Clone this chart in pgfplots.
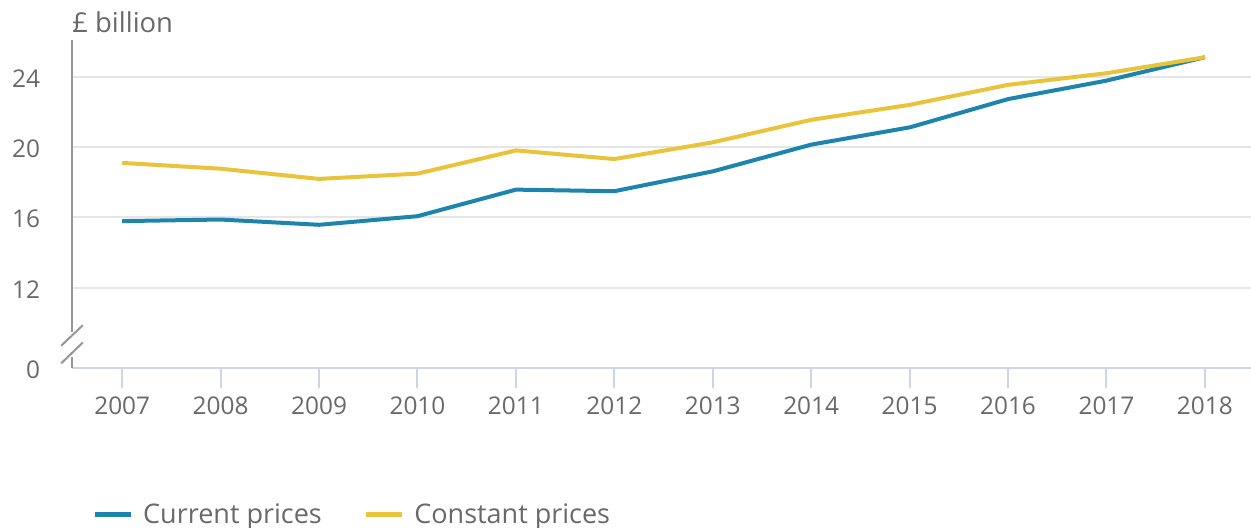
\documentclass[border=0pt]{standalone}
\usepackage{pgfplots}
\pgfplotsset{compat=1.18}
\usepackage{fontspec}
\setmainfont{Open Sans}
\definecolor{cur}{RGB}{29,133,173}
\definecolor{con}{RGB}{233,196,58}
\definecolor{txt}{RGB}{105,105,105}
\definecolor{gridc}{RGB}{230,230,230}
\definecolor{xaxc}{RGB}{204,214,235}
\definecolor{yaxc}{RGB}{150,150,150}
\begin{document}
\begin{tikzpicture}
\useasboundingbox (0pt,0pt) rectangle (625.5pt,264pt);
\begin{axis}[
  at={(36pt,79.85pt)}, anchor=south west,
  scale only axis, width=591.1pt, height=164.15pt,
  xmin=2006.49, xmax=2018.5, ymin=7.41, ymax=26.08,
  axis x line*=bottom, axis y line*=left,
  x axis line style={draw=xaxc, line width=1pt},
  y axis line style={draw=none},
  xtick={2007,...,2018},
  ytick={7.41,12,16,20,24}, yticklabels={0,12,16,20,24},
  /pgf/number format/assume math mode=true,
  /pgf/number format/1000 sep={},
  ymajorgrids=true,
  grid style={draw=gridc, line width=1pt},
  tick align=outside, major tick length=10pt,
  xtick style={draw=xaxc, line width=1pt},
  ytick style={draw=none},
  tick label style={font=\fontsize{12.2}{14}\selectfont, text=txt},
  yticklabel style={xshift=-2.5pt, yshift=-0.8pt},
  xticklabel style={yshift=-0.5pt},
  clip=false,
  legend style={draw=none, fill=none, inner sep=0pt, outer sep=0pt,
    anchor=west, at={(axis description cs:0.0175,-0.446)},
    font=\fontsize{13.5}{15}\selectfont, text=txt,
    /tikz/every even column/.append style={column sep=19pt}},
  legend columns=2,
  legend image code/.code={\draw[#1, line width=2.5pt] (0pt,0pt) -- (18pt,0pt); \path (21pt,0pt);},
]
\addplot[cur, line width=2pt] coordinates {
(2007,15.78) (2008,15.87) (2009,15.57) (2010,16.06) (2011,17.57) (2012,17.48)
(2013,18.61) (2014,20.13) (2015,21.11) (2016,22.72) (2017,23.77) (2018,25.10)};
\addlegendentry{Current prices}
\addplot[con, line width=2pt] coordinates {
(2007,19.09) (2008,18.76) (2009,18.18) (2010,18.48) (2011,19.80) (2012,19.31)
(2013,20.26) (2014,21.54) (2015,22.39) (2016,23.53) (2017,24.19) (2018,25.10)};
\addlegendentry{Constant prices}
\draw[yaxc, line width=1pt] (axis cs:2006.49,26.08) -- (axis cs:2006.49,9.46);
\draw[yaxc, line width=1pt] (axis cs:2006.49,8.04) -- (axis cs:2006.49,7.41);
\draw[yaxc, line width=1pt] (axis cs:2006.38,8.69) -- (axis cs:2006.60,9.86);
\draw[yaxc, line width=1pt] (axis cs:2006.38,7.69) -- (axis cs:2006.60,8.88);
\node[anchor=base west, inner sep=0pt, text=txt, font=\fontsize{13.7}{15}\selectfont]
  at ([yshift=3.5pt]rel axis cs:0,1) {£ billion};
\end{axis}
\end{tikzpicture}
\end{document}
